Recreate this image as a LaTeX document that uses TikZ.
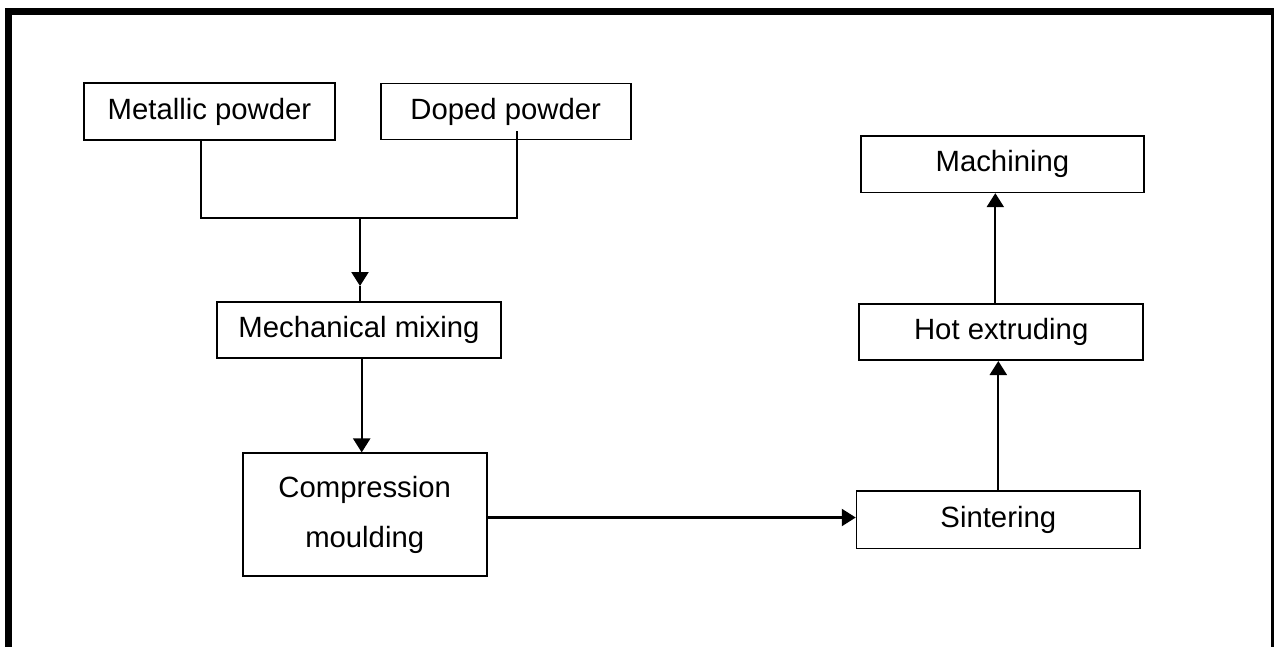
\documentclass[tikz,border=0pt]{standalone}
\usepackage{fontspec}
\setmainfont{Liberation Sans}
\usetikzlibrary{arrows.meta}
\begin{document}
\begin{tikzpicture}[x=1pt,y=-1pt,
  box/.style={draw,line width=1.6pt,inner sep=0pt,align=center,
    font=\fontsize{29.3}{50}\selectfont},
  conn/.style={line width=2.3pt},
  arr/.style={conn,-{Triangle[length=14pt,width=17pt]}}]
\clip (0,0) rectangle (1274,646);
\useasboundingbox (0,0) rectangle (1274,646);
\fill[white] (0,0) rectangle (1274,646);
% frame
\draw[line width=7pt] (8.5,700) -- (8.5,11.5) -- (1274.5,11.5) -- (1274.5,700);
% boxes
\node[box,minimum width=251pt,minimum height=57pt] (met) at (209.5,111.5) {Metallic powder};
\node[box,minimum width=250pt,minimum height=56pt] (dop) at (505.7,111.5) {Doped powder};
\node[box,minimum width=284pt,minimum height=56pt] (mix) at (359,329.7) {Mechanical mixing};
\node[box,minimum width=244pt,minimum height=123pt] (comp) at (364.7,514.7) {Compression\\moulding};
\node[box,minimum width=283.5pt,minimum height=57.6pt] (sint) at (998.3,519.5) {Sintering};
\node[box,minimum width=284pt,minimum height=56pt] (hot) at (1001.2,332.2) {Hot extruding};
\node[box,minimum width=283.3pt,minimum height=56.3pt] (mach) at (1002.4,164.2) {Machining};
% junction
\coordinate (mj) at (201,218);
\coordinate (dj) at (517,218);
\coordinate (dtop) at (517,131);
\coordinate (cj) at (360,218);
\coordinate (tipm) at (360,286);
\draw[line width=1.8pt] (met.south -| mj) -- (mj) -- (cj);
\draw[conn] (dtop) -- (dj) -- (cj);
\draw[arr] (cj) -- (tipm);
\draw[conn] (tipm) -- (mix.north -| tipm);
% mixing -> compression
\coordinate (mc) at (361.7,0);
\draw[arr] (mix.south -| mc) -- (comp.north -| mc);
% compression -> sintering
\coordinate (cs) at (0,517.5);
\draw[arr] (comp.east |- cs) -- (sint.west |- cs);
% sintering -> hot extruding
\coordinate (sh) at (998.3,0);
\draw[arr] (sint.north -| sh) -- (hot.south -| sh);
% hot extruding -> machining
\coordinate (hm) at (995.3,0);
\draw[arr] (hot.north -| hm) -- (mach.south -| hm);
\end{tikzpicture}
\end{document}
